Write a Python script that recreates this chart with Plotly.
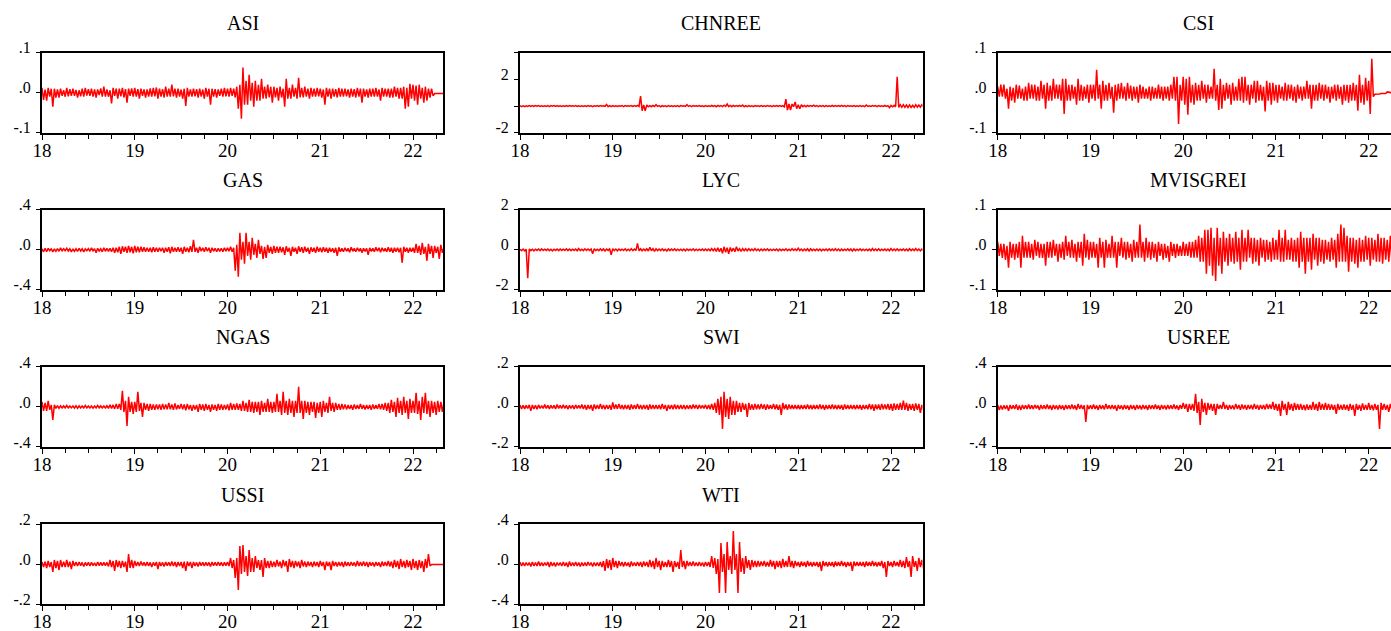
import numpy as np
import plotly.graph_objects as go

# ---- data: daily-return envelope ----
# values alternate upper / lower reading, one pair every ~1/30 year from 2018.0
asi = [.012, -.018, .008, -.02, .012, -.01, .01, -.035, .01, -.012, .008, -.012, .01, -.008, .006, -.01, .012, -.009, .009, -.008,
       .01, -.008, .007, -.012, .006, -.009, .01, -.01, .012, -.007, .009, -.008, .01, -.01, .008, -.012, .008, -.006, .011, -.01,
       .015, -.01, .008, -.01, .006, -.027, .012, -.008, .01, -.015, .01, -.009, .012, -.012, .009, -.025, .01, -.008, .011, -.01,
       .012, -.01, .009, -.015, .01, -.008, .008, -.012, .008, -.01, .011, -.01, .012, -.009, .013, -.015, .01, -.01, .009, -.012,
       .015, -.01, .01, -.01, .02, -.009, .01, -.012, .01, -.01, .008, -.015, .01, -.033, .012, -.01, .008, -.01, .01, -.009,
       .009, -.012, .01, -.01, .008, -.015, .012, -.01, .01, -.03, .01, -.01, .009, -.012, .008, -.008, .01, -.01, .012, -.009,
       .01, -.01, .012, -.008, .01, -.012, .015, -.04, .02, -.065, .063, -.03, .03, -.03, .045, -.02, .025, -.035, .03, -.02,
       .02, -.02, .035, -.015, .015, -.015, .02, -.012, .015, -.025, .015, -.012, .012, -.02, .015, -.012, .01, -.035, .035, -.015,
       .012, -.015, .02, -.01, .012, -.015, .037, -.012, .012, -.012, .015, -.01, .01, -.015, .012, -.01, .01, -.01, .012, -.009,
       .01, -.012, .008, -.03, .012, -.01, .01, -.015, .01, -.01, .009, -.012, .012, -.01, .01, -.01, .01, -.009, .008, -.012,
       .01, -.01, .009, -.012, .012, -.01, .01, -.025, .01, -.01, .008, -.012, .01, -.01, .01, -.01, .012, -.01, .008, -.02,
       .012, -.01, .01, -.01, .01, -.012, .01, -.012, .015, -.01, .012, -.015, .012, -.015, .015, -.04, .012, -.035, .022, -.015,
       .02, -.02, .018, -.03, .02, -.015, .012, -.025, .015, -.02, .01, -.012, .01, -.008, -.002, -.002, -.002, -.002, -.002, -.002, -.002, -.002]

chnree = [.03, -.04, .02, -.04, .02, -.03, .03, -.03, .04, -.02, .03, -.02, .03, -.03, .02, -.03, .02, -.03, .03, -.04,
          .03, -.02, .03, -.02, .04, -.03, .02, -.03, .02, -.03, .03, -.03, .03, -.02, .02, -.02, .04, -.03, .02, -.03,
          .02, -.03, .02, -.03, .03, -.02, .02, -.04, .02, -.02, .03, -.03, .03, -.02, .02, -.02, .12, -.05, .03, -.05,
          .03, -.03, .02, -.03, .02, -.02, .03, -.04, .03, -.02, .02, -.02, .04, -.03, .03, -.03, .05, -.03, .75, -.35,
          .08, -.35, .08, -.05, .03, -.05, .04, -.03, .1, -.03, .03, -.06, .03, -.03, .02, -.04, .03, -.03, .02, -.03,
          .02, -.03, .03, -.04, .03, -.02, .02, -.03, .1, -.03, .03, -.04, .03, -.02, .02, -.02, .03, -.03, .02, -.04,
          .03, -.03, .02, -.03, .04, -.03, .03, -.05, .05, -.03, .03, -.04, .06, -.03, .15, -.05, .04, -.05, .04, -.03,
          .03, -.03, .04, -.03, .08, -.05, .03, -.05, .03, -.03, .02, -.04, .03, -.02, .02, -.03, .04, -.03, .02, -.03,
          .03, -.02, .02, -.04, .03, -.03, .03, -.02, .04, -.03, .03, -.06, .52, -.3, .15, -.3, .15, -.05, .3, -.2,
          .1, -.2, .1, -.05, .04, -.05, .04, -.03, .03, -.03, .06, -.03, .03, -.04, .03, -.03, .03, -.05, .03, -.03,
          .02, -.03, .04, -.03, .03, -.03, .03, -.02, .05, -.03, .03, -.04, .03, -.02, .02, -.03, .04, -.03, .02, -.03,
          .03, -.03, .02, -.04, .08, -.03, .02, -.03, .03, -.02, .03, -.04, .03, -.03, .02, -.03, .04, -.03, .03, -.12,
          .05, -.06, .05, -.06, 2.2, -.1, .1, -.1, .1, -.1, .08, -.12, .08, -.1, .06, -.1, .1, -.08, .08, -.08, .1, -.06]

csi = [.015, -.01, .02, -.01, .02, -.015, .01, -.04, .015, -.02, .012, -.025, .02, -.015, .018, -.015, .01, -.02, .015, -.02,
       .025, -.015, .02, -.015, .02, -.02, .015, -.02, .03, -.015, .02, -.04, .025, -.02, .018, -.02, .035, -.015, .02, -.015,
       .02, -.02, .035, -.053, .035, -.02, .02, -.02, .02, -.015, .015, -.03, .035, -.02, .02, -.02, .015, -.015, .02, -.025,
       .02, -.015, .02, -.02, .057, -.015, .02, -.04, .03, -.02, .02, -.02, .025, -.015, .015, -.05, .02, -.02, .022, -.015,
       .025, -.015, .015, -.02, .025, -.015, .018, -.02, .015, -.015, .015, -.025, .02, -.015, .015, -.015, .01, -.015, .015, -.02,
       .015, -.015, .012, -.015, .02, -.015, .015, -.02, .015, -.015, .015, -.02, .02, -.015, .04, -.02, .04, -.078, .02, -.02,
       .04, -.03, .035, -.055, .04, -.025, .02, -.03, .025, -.02, .02, -.02, .03, -.015, .02, -.025, .02, -.015, .015, -.015,
       .06, -.02, .02, -.043, .035, -.04, .02, -.02, .025, -.015, .02, -.03, .025, -.02, .015, -.02, .035, -.02, .04, -.025,
       .04, -.02, .02, -.03, .02, -.015, .03, -.025, .03, -.02, .02, -.02, .015, -.047, .03, -.02, .025, -.03, .025, -.02,
       .02, -.025, .02, -.015, .015, -.02, .025, -.02, .02, -.015, .02, -.02, .015, -.025, .02, -.015, .015, -.02, .015, -.015,
       .03, -.015, .02, -.04, .02, -.02, .02, -.02, .025, -.015, .02, -.02, .02, -.015, .015, -.025, .015, -.015, .02, -.02,
       .02, -.015, .015, -.03, .02, -.02, .02, -.025, .02, -.02, .025, -.02, .02, -.045, .045, -.025, .02, -.03, .037, -.02,
       .03, -.053, .085, -.01, -.004, -.004, -.003, -.003, -.002, -.002, -.002, -.002, .002, .001, -.001, -.001, -.001, -.001, -.001, -.001, -.001, -.001]

gas = [.01, -.02, .015, -.02, .015, -.01, .01, -.02, .01, -.015, .012, -.015, .02, -.01, .01, -.01, .015, -.012, .01, -.02,
       .01, -.015, .01, -.015, .015, -.012, .01, -.02, .01, -.01, .012, -.015, .02, -.01, .01, -.03, .015, -.012, .01, -.02,
       .02, -.015, .015, -.015, .015, -.02, .02, -.03, .02, -.025, .03, -.04, .035, -.02, .03, -.03, .04, -.025, .03, -.035,
       .04, -.025, .03, -.025, .03, -.02, .025, -.02, .02, -.02, .02, -.025, .025, -.02, .02, -.02, .02, -.015, .02, -.03,
       .02, -.02, .025, -.035, .03, -.02, .02, -.02, .025, -.02, .02, -.04, .03, -.02, .02, -.025, .035, -.02, .1, -.02,
       .02, -.03, .03, -.015, .02, -.02, .025, -.015, .02, -.03, .02, -.015, .015, -.02, .015, -.015, .015, -.02, .02, -.015,
       .02, -.015, .03, -.02, .02, -.21, .05, -.27, .17, -.1, .08, -.14, .17, -.06, .08, -.1, .12, -.05, .06, -.08,
       .1, -.04, .04, -.09, .03, -.08, .05, -.03, .03, -.04, .04, -.03, .03, -.03, .03, -.025, .025, -.05, .035, -.02,
       .02, -.06, .03, -.02, .02, -.04, .035, -.02, .025, -.03, .03, -.02, .02, -.04, .025, -.02, .02, -.03, .03, -.02,
       .02, -.025, .025, -.02, .02, -.03, .02, -.02, .015, -.03, .02, -.06, .025, -.02, .015, -.02, .02, -.015, .015, -.025,
       .025, -.015, .015, -.02, .02, -.015, .015, -.03, .015, -.015, .015, -.05, .02, -.015, .015, -.02, .025, -.015, .02, -.025,
       .02, -.015, .015, -.02, .025, -.02, .02, -.03, .02, -.02, .02, -.025, .02, -.13, .03, -.02, .02, -.03, .02, -.02,
       .02, -.03, .06, -.03, .04, -.05, .07, -.04, .03, -.11, .06, -.04, .04, -.08, .04, -.03, .03, -.09, .05, -.03, .02, -.02]

lyc = [.03, -.04, .04, -.05, .03, -1.42, .04, -.04, .03, -.05, .03, -.03, .04, -.04, .05, -.03, .03, -.03, .04, -.04,
       .03, -.05, .03, -.03, .04, -.04, .04, -.03, .03, -.03, .05, -.04, .04, -.04, .03, -.03, .04, -.05, .06, -.04,
       .03, -.04, .05, -.03, .04, -.03, .04, -.2, .06, -.04, .03, -.04, .05, -.04, .04, -.06, .04, -.03, .04, -.25,
       .06, -.04, .04, -.05, .04, -.03, .03, -.03, .05, -.04, .03, -.04, .06, -.04, .04, -.04, .32, -.05, .05, -.05,
       .04, -.04, .05, -.06, .12, -.05, .06, -.08, .05, -.04, .04, -.04, .05, -.04, .03, -.06, .04, -.04, .04, -.03,
       .05, -.04, .03, -.04, .03, -.04, .04, -.05, .04, -.03, .03, -.03, .05, -.04, .03, -.04, .03, -.03, .04, -.04,
       .04, -.04, .04, -.05, .06, -.05, .06, -.08, .1, -.1, .08, -.18, .15, -.12, .1, -.2, .12, -.08, .08, -.1,
       .15, -.06, .06, -.08, .06, -.05, .05, -.05, .05, -.04, .04, -.04, .06, -.04, .04, -.05, .04, -.04, .04, -.03,
       .05, -.04, .03, -.04, .03, -.03, .04, -.05, .04, -.04, .03, -.03, .05, -.04, .03, -.04, .06, -.03, .04, -.04,
       .08, -.04, .04, -.05, .04, -.04, .05, -.06, .05, -.04, .03, -.04, .04, -.04, .04, -.05, .03, -.03, .04, -.04,
       .05, -.04, .04, -.04, .06, -.04, .04, -.05, .04, -.04, .03, -.03, .05, -.04, .04, -.06, .04, -.04, .03, -.03,
       .05, -.04, .03, -.04, .03, -.04, .04, -.05, .06, -.04, .04, -.04, .05, -.04, .03, -.03, .04, -.04, .04, -.05,
       .06, -.04, .04, -.04, .05, -.04, .03, -.03, .04, -.04, .04, -.05, .05, -.04, .04, -.04, .06, -.04, .04, -.05, .04, -.03]

mvisgrei = [.02, -.015, .015, -.02, .015, -.025, .01, -.045, .02, -.02, .015, -.025, .015, -.02, .02, -.045, .035, -.02, .02, -.02,
            .02, -.02, .015, -.025, .025, -.015, .02, -.02, .015, -.02, .015, -.04, .02, -.02, .02, -.02, .025, -.015, .015, -.03,
            .015, -.02, .02, -.025, .035, -.015, .02, -.02, .025, -.02, .015, -.03, .02, -.02, .02, -.04, .04, -.02, .025, -.025,
            .02, -.02, .02, -.02, .015, -.045, .03, -.02, .02, -.045, .025, -.02, .015, -.02, .035, -.02, .02, -.045, .02, -.015,
            .03, -.02, .02, -.025, .02, -.02, .015, -.03, .025, -.02, .02, -.02, .063, -.02, .02, -.03, .03, -.02, .02, -.025,
            .02, -.02, .015, -.03, .02, -.015, .015, -.025, .015, -.02, .01, -.03, .02, -.015, .015, -.02, .015, -.015, .01, -.015,
            .02, -.015, .015, -.015, .02, -.02, .02, -.02, .025, -.02, .035, -.03, .03, -.03, .05, -.06, .05, -.04, .055, -.065,
            .03, -.078, .055, -.04, .03, -.06, .045, -.03, .03, -.04, .04, -.03, .03, -.035, .045, -.03, .03, -.05, .05, -.03,
            .03, -.03, .05, -.02, .03, -.035, .03, -.03, .025, -.04, .03, -.02, .025, -.03, .025, -.025, .02, -.03, .03, -.025,
            .025, -.025, .05, -.03, .03, -.03, .05, -.025, .025, -.025, .03, -.03, .025, -.03, .03, -.045, .045, -.03, .03, -.06,
            .03, -.03, .03, -.05, .04, -.025, .03, -.04, .03, -.03, .025, -.035, .025, -.025, .02, -.03, .03, -.025, .025, -.045,
            .04, -.03, .063, -.03, .055, -.03, .035, -.055, .03, -.03, .03, -.035, .025, -.045, .03, -.03, .025, -.03, .035, -.025,
            .03, -.04, .03, -.025, .025, -.03, .04, -.03, .03, -.035, .03, -.025, .025, -.03, .035, -.03, .03, -.045, .03, -.03, .025, -.03]

ngas = [.05, -.04, .04, -.04, .06, -.03, .02, -.13, .02, -.015, .012, -.015, .01, -.01, .012, -.01, .015, -.01, .01, -.01,
        .01, -.012, .012, -.015, .01, -.01, .01, -.01, .015, -.01, .01, -.01, .01, -.012, .01, -.01, .015, -.01, .012, -.01,
        .01, -.01, .012, -.015, .02, -.015, .02, -.02, .03, -.02, .03, -.03, .16, -.05, .06, -.19, .1, -.05, .05, -.07,
        .05, -.05, .15, -.04, .04, -.1, .04, -.03, .03, -.04, .03, -.03, .025, -.03, .025, -.025, .025, -.03, .03, -.025,
        .025, -.025, .04, -.025, .025, -.03, .035, -.025, .02, -.02, .03, -.025, .025, -.035, .03, -.025, .02, -.04, .02, -.025,
        .02, -.05, .03, -.03, .025, -.04, .03, -.03, .02, -.05, .025, -.03, .02, -.04, .03, -.03, .025, -.03, .02, -.025,
        .025, -.035, .04, -.03, .03, -.03, .035, -.03, .03, -.04, .06, -.04, .04, -.05, .07, -.05, .05, -.06, .05, -.05,
        .05, -.08, .06, -.05, .04, -.05, .08, -.05, .05, -.06, .05, -.05, .13, -.05, .06, -.08, .15, -.06, .06, -.08,
        .08, -.06, .06, -.1, .06, -.06, .2, -.06, .06, -.12, .06, -.06, .05, -.08, .05, -.05, .05, -.11, .04, -.06,
        .05, -.1, .06, -.05, .04, -.06, .1, -.04, .04, -.05, .04, -.03, .03, -.03, .03, -.025, .025, -.025, .02, -.02,
        .02, -.03, .025, -.02, .02, -.02, .03, -.02, .02, -.025, .02, -.02, .02, -.03, .025, -.02, .02, -.02, .03, -.025,
        .03, -.03, .04, -.04, .04, -.06, .07, -.05, .05, -.1, .09, -.06, .06, -.08, .1, -.06, .06, -.12, .08, -.06,
        .06, -.06, .14, -.07, .06, -.13, .1, -.06, .14, -.07, .06, -.1, .06, -.06, .05, -.08, .06, -.05, .05, -.05, .05, -.04]

swi = [.01, -.01, .008, -.01, .008, -.008, .01, -.02, .01, -.01, .008, -.012, .01, -.008, .006, -.008, .012, -.008, .008, -.01,
       .008, -.008, .008, -.01, .012, -.008, .008, -.008, .01, -.008, .008, -.012, .008, -.008, .008, -.01, .01, -.008, .008, -.008,
       .012, -.01, .01, -.015, .01, -.01, .01, -.02, .012, -.01, .01, -.01, .015, -.01, .01, -.012, .01, -.01, .01, -.015,
       .022, -.01, .012, -.01, .015, -.01, .01, -.012, .01, -.01, .01, -.015, .012, -.01, .01, -.01, .015, -.01, .01, -.012,
       .01, -.01, .01, -.015, .012, -.01, .01, -.01, .01, -.01, .01, -.012, .015, -.01, .01, -.02, .01, -.01, .01, -.012,
       .012, -.01, .01, -.01, .01, -.01, .01, -.012, .008, -.01, .008, -.01, .012, -.008, .01, -.01, .01, -.008, .008, -.008,
       .01, -.01, .01, -.012, .015, -.015, .02, -.03, .04, -.04, .05, -.11, .075, -.05, .04, -.06, .05, -.04, .03, -.04,
       .03, -.025, .02, -.025, .02, -.015, .015, -.05, .02, -.015, .012, -.015, .015, -.012, .012, -.012, .015, -.01, .012, -.015,
       .012, -.01, .01, -.01, .015, -.012, .012, -.015, .01, -.04, .02, -.012, .012, -.015, .012, -.01, .01, -.01, .01, -.01,
       .01, -.012, .01, -.01, .01, -.01, .012, -.01, .01, -.012, .01, -.01, .01, -.01, .012, -.01, .01, -.015, .01, -.01,
       .01, -.01, .012, -.01, .01, -.012, .01, -.01, .01, -.015, .012, -.01, .01, -.01, .01, -.01, .01, -.012, .01, -.01,
       .01, -.015, .01, -.01, .01, -.012, .015, -.012, .012, -.02, .012, -.012, .012, -.015, .015, -.012, .012, -.012, .015, -.015,
       .015, -.02, .018, -.015, .015, -.015, .02, -.015, .032, -.015, .02, -.02, .015, -.015, .015, -.02, .018, -.015, .015, -.03, .01, -.015]

usree = [.02, -.03, .015, -.025, .015, -.02, .015, -.04, .02, -.02, .015, -.02, .025, -.03, .015, -.03, .02, -.02, .015, -.02,
         .025, -.02, .015, -.02, .02, -.015, .015, -.03, .02, -.02, .015, -.02, .025, -.02, .015, -.03, .02, -.02, .015, -.025,
         .02, -.02, .015, -.03, .02, -.02, .015, -.02, .025, -.02, .015, -.03, .03, -.02, .02, -.02, .015, -.15, .02, -.02,
         .015, -.02, .025, -.02, .015, -.03, .02, -.02, .015, -.025, .03, -.02, .015, -.02, .02, -.02, .015, -.04, .02, -.02,
         .015, -.025, .02, -.02, .015, -.03, .02, -.02, .015, -.03, .02, -.02, .015, -.025, .02, -.02, .015, -.03, .02, -.02,
         .015, -.02, .025, -.02, .015, -.03, .02, -.02, .015, -.025, .02, -.02, .015, -.02, .025, -.02, .015, -.03, .02, -.02,
         .04, -.02, .03, -.05, .03, -.03, .03, -.04, .13, -.06, .05, -.18, .08, -.05, .04, -.08, .04, -.03, .03, -.04,
         .03, -.08, .03, -.02, .02, -.02, .05, -.02, .02, -.03, .02, -.02, .015, -.025, .03, -.02, .02, -.03, .025, -.02,
         .02, -.03, .02, -.02, .02, -.025, .03, -.02, .02, -.03, .02, -.02, .02, -.025, .03, -.02, .025, -.02, .05, -.03,
         .03, -.04, .03, -.09, .06, -.03, .03, -.08, .05, -.03, .03, -.04, .04, -.03, .03, -.03, .03, -.03, .02, -.035,
         .025, -.03, .02, -.03, .05, -.03, .03, -.04, .05, -.03, .03, -.03, .04, -.03, .03, -.03, .025, -.03, .02, -.07,
         .03, -.03, .02, -.03, .025, -.03, .02, -.04, .03, -.03, .02, -.09, .03, -.03, .02, -.04, .035, -.03, .02, -.03,
         .04, -.03, .02, -.035, .03, -.03, .02, -.22, .04, -.03, .03, -.03, .02, -.05, .03, -.03, .02, -.04, .03, -.03, .02, -.03]

ussi = [.01, -.015, .012, -.02, .015, -.015, .01, -.04, .02, -.02, .015, -.03, .02, -.015, .012, -.015, .02, -.015, .012, -.025,
        .015, -.01, .01, -.01, .01, -.008, .008, -.012, .008, -.008, .008, -.01, .008, -.008, .006, -.01, .01, -.008, .008, -.008,
        .008, -.008, .008, -.012, .02, -.015, .015, -.035, .02, -.015, .015, -.02, .015, -.015, .012, -.04, .05, -.02, .02, -.02,
        .015, -.01, .01, -.01, .012, -.008, .008, -.01, .01, -.01, .008, -.015, .008, -.008, .01, -.025, .01, -.01, .008, -.012,
        .01, -.008, .008, -.01, .012, -.01, .01, -.015, .01, -.01, .01, -.02, .012, -.035, .012, -.01, .01, -.02, .01, -.01,
        .008, -.012, .01, -.008, .008, -.01, .008, -.008, .008, -.012, .01, -.008, .008, -.008, .01, -.008, .008, -.01, .008, -.008,
        .01, -.01, .03, -.02, .02, -.07, .03, -.13, .09, -.05, .095, -.04, .04, -.06, .07, -.04, .03, -.04, .04, -.02,
        .02, -.03, .02, -.065, .03, -.02, .015, -.02, .015, -.015, .012, -.015, .02, -.012, .012, -.02, .02, -.012, .015, -.04,
        .025, -.015, .015, -.02, .015, -.012, .012, -.02, .02, -.012, .012, -.015, .012, -.01, .01, -.015, .012, -.01, .01, -.015,
        .015, -.01, .01, -.03, .012, -.01, .01, -.03, .015, -.01, .01, -.012, .01, -.01, .01, -.015, .012, -.01, .008, -.01,
        .01, -.008, .008, -.012, .015, -.01, .01, -.01, .012, -.01, .01, -.015, .01, -.008, .008, -.012, .01, -.008, .008, -.015,
        .012, -.01, .01, -.01, .015, -.012, .012, -.02, .02, -.015, .015, -.025, .025, -.015, .015, -.02, .02, -.015, .015, -.03,
        .025, -.02, .015, -.03, .02, -.02, .015, -.04, .025, -.02, .05, -.01, -.002, -.002, -.002, -.002, -.002, -.002, -.002, -.002, -.002, -.002]

wti = [.02, -.02, .015, -.02, .015, -.015, .015, -.025, .02, -.02, .015, -.02, .025, -.02, .015, -.02, .015, -.015, .02, -.03,
       .02, -.02, .015, -.025, .015, -.015, .015, -.02, .02, -.02, .015, -.03, .025, -.02, .015, -.02, .02, -.02, .015, -.025,
       .015, -.02, .015, -.02, .02, -.015, .015, -.025, .015, -.02, .015, -.02, .02, -.03, .03, -.07, .05, -.04, .04, -.06,
       .06, -.03, .03, -.04, .03, -.02, .02, -.025, .02, -.02, .015, -.03, .025, -.02, .015, -.02, .02, -.02, .02, -.03,
       .025, -.02, .02, -.03, .04, -.03, .03, -.05, .06, -.03, .03, -.06, .03, -.03, .02, -.03, .04, -.03, .03, -.08,
       .03, -.03, .02, -.05, .14, -.03, .03, -.05, .03, -.02, .02, -.02, .025, -.02, .015, -.02, .02, -.02, .015, -.025,
       .02, -.02, .02, -.03, .08, -.04, .06, -.1, .05, -.29, .21, -.08, .1, -.29, .22, -.06, .08, -.1, .33, -.06,
       .1, -.29, .22, -.08, .06, -.1, .08, -.04, .04, -.06, .04, -.03, .03, -.03, .03, -.025, .025, -.02, .03, -.025,
       .02, -.025, .04, -.025, .03, -.05, .03, -.03, .03, -.04, .05, -.03, .03, -.03, .08, -.03, .03, -.04, .03, -.02,
       .02, -.03, .025, -.02, .02, -.03, .03, -.02, .02, -.025, .02, -.02, .02, -.03, .02, -.07, .03, -.02, .02, -.025,
       .02, -.02, .02, -.03, .025, -.02, .02, -.02, .03, -.02, .02, -.03, .02, -.02, .02, -.07, .025, -.02, .02, -.02,
       .02, -.02, .02, -.03, .025, -.02, .02, -.02, .03, -.02, .02, -.025, .02, -.02, .03, -.04, .02, -.13, .03, -.02,
       .02, -.03, .03, -.02, .02, -.025, .04, -.03, .03, -.04, .07, -.03, .03, -.13, .08, -.03, .03, -.07, .06, -.03, .04, -.05]

titles = ["ASI", "CHNREE", "CSI", "GAS", "LYC", "MVISGREI",
          "NGAS", "SWI", "USREE", "USSI", "WTI"]
series = [asi, chnree, csi, gas, lyc, mvisgrei, ngas, swi, usree, ussi, wti]

year_ticks = [2018, 2019, 2020, 2021, 2022]
year_labels = ["18", "19", "20", "21", "22"]

y_ranges = [[-0.1, 0.1], [-2, 4], [-0.1, 0.1], [-0.4, 0.4], [-2, 2], [-0.1, 0.1],
            [-0.4, 0.4], [-0.2, 0.2], [-0.4, 0.4], [-0.2, 0.2], [-0.4, 0.4]]
y_tickvals = [[-0.1, 0, 0.1], [-2, 0, 2, 4], [-0.1, 0, 0.1], [-0.4, 0, 0.4],
              [-2, 0, 2], [-0.1, 0, 0.1], [-0.4, 0, 0.4], [-0.2, 0, 0.2],
              [-0.4, 0, 0.4], [-0.2, 0, 0.2], [-0.4, 0, 0.4]]
y_ticktext = [["-.1", ".0", ".1"], ["-2", "", "2", ""], ["-.1", ".0", ".1"],
              ["-.4", ".0", ".4"], ["-2", "0", "2"], ["-.1", ".0", ".1"],
              ["-.4", ".0", ".4"], ["-.2", ".0", ".2"], ["-.4", ".0", ".4"],
              ["-.2", ".0", ".2"], ["-.4", ".0", ".4"]]

# ---- layout geometry (pixels) ----
W, H = 1391, 631
PX_PER_YEAR = 92.75
col_px = [(42.0, 443.0), (520.0, 922.5), (997.7, 1391.0)]
row_top = [52.7, 209.8, 366.9, 524.0]
ROW_H = 80.0
FONT = "Liberation Serif"

fig = go.Figure()
annotations = []
for k, (name, vals) in enumerate(zip(titles, series)):
    r, c = divmod(k, 3)
    idx = k + 1
    sfx = "" if idx == 1 else str(idx)
    x = 2018 + np.arange(len(vals)) / 60.0
    fig.add_trace(go.Scatter(x=x, y=vals, mode="lines",
                             line=dict(color="#ff0000", width=1.5),
                             xaxis="x" + sfx, yaxis="y" + sfx,
                             hoverinfo="skip", showlegend=False))
    x0, x1 = col_px[c]
    top = row_top[r]
    bot = top + ROW_H
    xdom = [x0 / W, x1 / W]
    ydom = [1 - bot / H, 1 - top / H]
    xr = [2018, 2018 + (x1 - x0) / PX_PER_YEAR]
    fig.layout["xaxis" + sfx] = dict(
        domain=xdom, range=xr, anchor="y" + sfx, automargin=False,
        showline=True, linecolor="black", linewidth=2, mirror=True,
        showgrid=False, zeroline=False,
        ticks="outside", ticklen=5, tickwidth=1, tickcolor="black",
        tickmode="array", tickvals=year_ticks, ticktext=year_labels,
        tickfont=dict(family=FONT, size=19, color="black"),
        ticklabelstandoff=-6,
        minor=dict(ticks="outside", ticklen=4, tickwidth=1, tickcolor="black",
                   tickmode="linear", tick0=2018, dtick=0.25, showgrid=False),
        fixedrange=True,
    )
    fig.layout["yaxis" + sfx] = dict(
        domain=ydom, range=y_ranges[k], anchor="x" + sfx, automargin=False,
        showline=True, linecolor="black", linewidth=2, mirror=True,
        showgrid=False, zeroline=False,
        ticks="outside", ticklen=4, tickwidth=1, tickcolor="black",
        tickmode="array", tickvals=y_tickvals[k], ticktext=y_ticktext[k],
        tickfont=dict(family=FONT, size=16, color="black"),
        ticklabelshift=-5, ticklabelstandoff=2,
        fixedrange=True,
    )
    annotations.append(dict(
        text=name, xref="paper", yref="paper",
        x=(x0 + x1) / 2 / W if c < 2 else (x0 + x0 + 401) / 2 / W,
        y=1 - (top - 29.5) / H,
        xanchor="center", yanchor="middle", showarrow=False,
        font=dict(family=FONT, size=20, color="black"),
    ))

fig.update_layout(
    width=W, height=H, margin=dict(l=0, r=0, t=0, b=0, autoexpand=False),
    paper_bgcolor="white", plot_bgcolor="white",
    showlegend=False, annotations=annotations,
)

fig.write_html("out.html")
